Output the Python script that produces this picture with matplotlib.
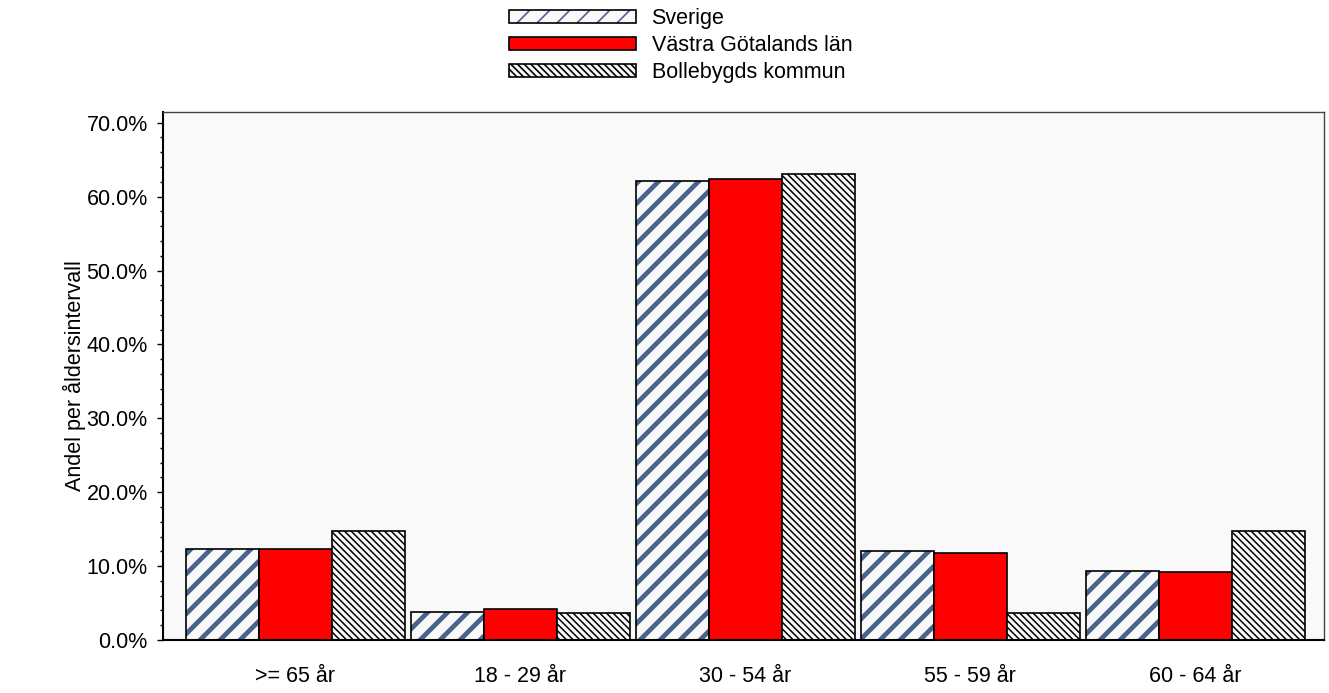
import matplotlib.pyplot as plt
import matplotlib as mpl
from matplotlib.legend_handler import HandlerTuple
from matplotlib.ticker import PercentFormatter, MultipleLocator
import numpy as np

plt.rcParams['font.family'] = ['Liberation Sans', 'DejaVu Sans']

# data
kategorier = [">= 65 år", "18 - 29 år", "30 - 54 år", "55 - 59 år", "60 - 64 år"]
sverige = [12.3, 3.8, 62.1, 12.1, 9.4]
vastra_gotaland = [12.3, 4.2, 62.4, 11.8, 9.2]
bollebygd = [14.8, 3.7, 63.0, 3.7, 14.8]
serienamn = ["Sverige", "Västra Götalands län", "Bollebygds kommun"]

# dpi 120 ger hatch-rutor pa 120 px, storlekar skalas med k
DPI = 120
k = 100 / DPI

hatch_bla = '#48648a'
bakgrund = '#f9f9f9'
hatch_sv = '//'
hatch_bo = '\\' * 6
fs = 15.5 * k

fig = plt.figure(figsize=(1329 / DPI, 693 / DPI), dpi=DPI)
ax = fig.add_axes([163 / 1329, 53 / 693, 1161 / 1329, 528 / 693])
ax.set_facecolor(bakgrund)

x = np.arange(len(kategorier))
w = 0.3244
lw = 1.2 * k

# Sverige: bla tjocka snedstreck
with mpl.rc_context({'hatch.linewidth': 3.4 * k}):
    b1h = ax.bar(x - w, sverige, w, color=bakgrund, edgecolor=hatch_bla, hatch=hatch_sv, linewidth=0)
b1o = ax.bar(x - w, sverige, w, fill=False, edgecolor='black', linewidth=lw)

# Vastra Gotaland: rod
b2 = ax.bar(x, vastra_gotaland, w, color='#ff0000', edgecolor='black', linewidth=lw)

# Bollebygd: tata svarta streck
with mpl.rc_context({'hatch.linewidth': 1.1 * k}):
    b3h = ax.bar(x + w, bollebygd, w, color=bakgrund, edgecolor='black', hatch=hatch_bo, linewidth=0)
b3o = ax.bar(x + w, bollebygd, w, fill=False, edgecolor='black', linewidth=lw)

ax.set_xlim(-0.587, 4.573)
ax.set_ylim(0, 71.45)
ax.yaxis.set_major_locator(MultipleLocator(10))
ax.yaxis.set_minor_locator(MultipleLocator(2))
ax.yaxis.set_major_formatter(PercentFormatter(decimals=1))
ax.set_xticks(x)
ax.set_xticklabels(kategorier)
ax.tick_params(axis='x', length=0, pad=19 * k, labelsize=fs)
ax.tick_params(axis='y', which='major', length=4 * k, width=k, pad=7 * k, labelsize=fs)
ax.tick_params(axis='y', which='minor', length=2 * k, width=k)

for s in ['left', 'bottom']:
    ax.spines[s].set_color('black')
    ax.spines[s].set_linewidth(1.5 * k)
for s in ['top', 'right']:
    ax.spines[s].set_color('#444444')
    ax.spines[s].set_linewidth(k)

ax.set_ylabel("Andel per åldersintervall", fontsize=fs)
ax.yaxis.set_label_coords(-0.066, 0.5)

# legend, hatch + kant ovanpa varandra
fig.legend([(b1h, b1o), b2, (b3h, b3o)], serienamn, loc='upper left',
           bbox_to_anchor=(509 / 1329, 1 - 8 / 693), frameon=False,
           handler_map={tuple: HandlerTuple(ndivide=1, pad=0)},
           fontsize=fs, handlelength=5.9, handleheight=0.55,
           handletextpad=0.72, labelspacing=0.28, borderpad=0, borderaxespad=0)

fig.savefig('out.png', dpi=DPI)
